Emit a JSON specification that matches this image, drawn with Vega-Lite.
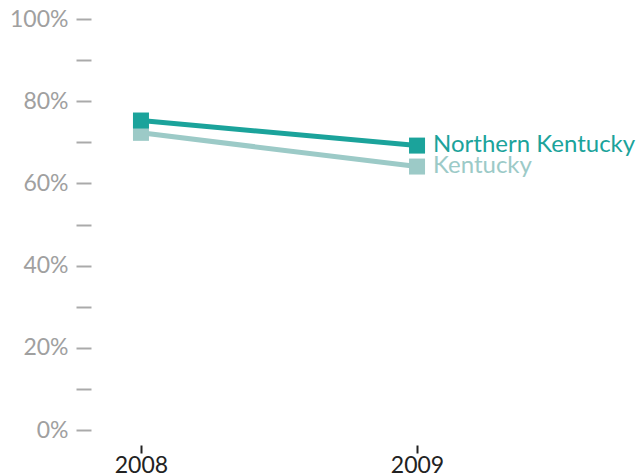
{
  "$schema": "https://vega.github.io/schema/vega-lite/v6.json",
  "width": 376,
  "height": 411,
  "autosize": {"type": "none"},
  "padding": {"left": 91, "top": 19, "right": 173, "bottom": 46},
  "background": "white",
  "config": {"view": {"stroke": null}, "font": "Lato"},
  "data": {
    "values": [
      {"region": "Kentucky", "year": 2008, "value": 0.723},
      {"region": "Kentucky", "year": 2009, "value": 0.641},
      {"region": "Northern Kentucky", "year": 2008, "value": 0.753},
      {"region": "Northern Kentucky", "year": 2009, "value": 0.692}
    ]
  },
  "encoding": {
    "x": {
      "field": "year",
      "type": "ordinal",
      "scale": {"type": "point", "padding": 0.181},
      "axis": {
        "title": null,
        "domain": false,
        "offset": 15,
        "tickSize": 8,
        "tickWidth": 2,
        "tickColor": "#222222",
        "labelColor": "#222222",
        "labelFontSize": 23,
        "labelBaseline": "alphabetic",
        "labelPadding": 19,
        "labelAngle": 0
      }
    },
    "y": {
      "field": "value",
      "type": "quantitative",
      "scale": {"domain": [0, 1]},
      "axis": {
        "title": null,
        "domain": false,
        "grid": false,
        "values": [0, 0.1, 0.2, 0.3, 0.4, 0.5, 0.6, 0.7, 0.8, 0.9, 1],
        "format": ".0%",
        "labelExpr": "round(datum.value*10) % 2 == 0 ? datum.label : ''",
        "tickSize": 15,
        "tickWidth": 2,
        "tickColor": "#aaaaaa",
        "labelColor": "#a0a0a0",
        "labelFontSize": 23,
        "labelPadding": 8
      }
    },
    "color": {
      "field": "region",
      "type": "nominal",
      "scale": {"domain": ["Northern Kentucky", "Kentucky"], "range": ["#1ba39b", "#9ccac7"]},
      "legend": null
    }
  },
  "layer": [
    {"mark": {"type": "line", "strokeWidth": 5}},
    {"mark": {"type": "point", "shape": "square", "filled": true, "size": 256, "opacity": 1}},
    {
      "transform": [{"filter": "datum.year == 2009"}],
      "mark": {"type": "text", "align": "left", "dx": 16, "dy": 6, "fontSize": 24, "baseline": "alphabetic"},
      "encoding": {"text": {"field": "region"}}
    }
  ]
}
